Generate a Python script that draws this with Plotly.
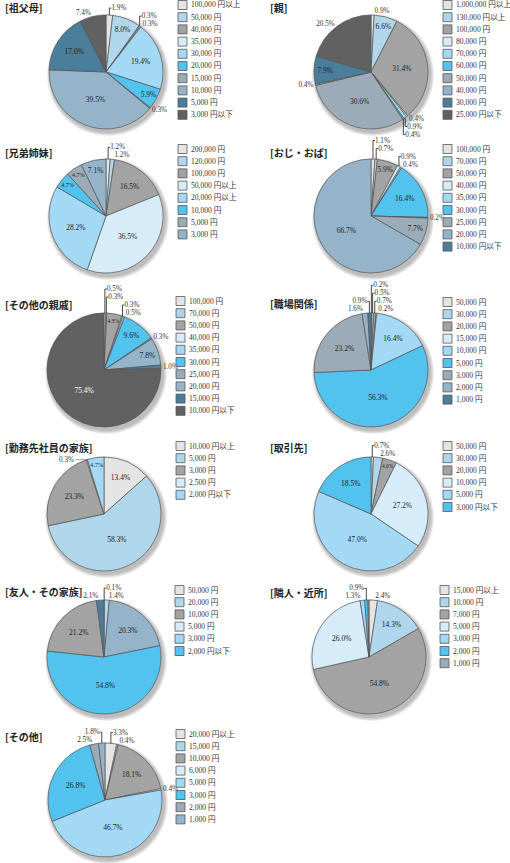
import math
import plotly.graph_objects as go

W, H = 510, 863

# ---------------- data (legend order) ----------------
grandparents_labels = ["100,000 円以上", "50,000 円", "40,000 円", "35,000 円", "30,000 円", "20,000 円",
                       "15,000 円", "10,000 円", "5,000 円", "3,000 円以下"]
grandparents_values = [1.9, 8.0, 0.3, 0.3, 19.4, 5.9, 0.3, 39.5, 17.0, 7.4]

parents_labels = ["1,000,000 円以上", "130,000 円以上", "100,000 円", "80,000 円", "70,000 円", "60,000 円",
                  "50,000 円", "40,000 円", "30,000 円", "25,000 円以下"]
parents_values = [0.9, 6.6, 31.4, 0.4, 0.9, 0.4, 30.6, 0.4, 7.9, 20.5]

siblings_labels = ["200,000 円", "120,000 円", "100,000 円", "50,000 円以上", "20,000 円以上", "10,000 円",
                   "5,000 円", "3,000 円"]
siblings_values = [1.2, 1.2, 16.5, 36.5, 28.2, 4.7, 4.7, 7.1]

uncle_labels = ["100,000 円", "70,000 円", "50,000 円", "40,000 円", "35,000 円", "30,000 円", "25,000 円",
                "20,000 円", "10,000 円以下"]
uncle_values = [1.1, 0.7, 5.9, 0.9, 0.4, 16.4, 7.7, 66.7, 0.2]

relatives_labels = ["100,000 円", "70,000 円", "50,000 円", "40,000 円", "35,000 円", "30,000 円", "25,000 円",
                    "20,000 円", "15,000 円", "10,000 円以下"]
relatives_values = [0.5, 0.3, 4.3, 0.3, 0.5, 9.6, 0.3, 7.8, 1.0, 75.4]

work_labels = ["50,000 円", "30,000 円", "20,000 円", "15,000 円", "10,000 円", "5,000 円", "3,000 円",
               "2,000 円", "1,000 円"]
work_values = [0.2, 0.5, 0.7, 0.2, 16.4, 56.3, 23.2, 1.6, 0.9]

coworker_family_labels = ["10,000 円以上", "5,000 円", "3,000 円", "2,500 円", "2,000 円以下"]
coworker_family_values = [13.4, 58.3, 23.3, 0.3, 4.7]

clients_labels = ["50,000 円", "30,000 円", "20,000 円", "10,000 円", "5,000 円", "3,000 円以下"]
clients_values = [0.7, 2.6, 4.0, 27.2, 47.0, 18.5]

friends_labels = ["50,000 円", "20,000 円", "10,000 円", "5,000 円", "3,000 円", "2,000 円以下"]
friends_values = [0.1, 1.4, 20.3, 54.8, 21.2, 2.1]

neighbors_labels = ["15,000 円以上", "10,000 円", "7,000 円", "5,000 円", "3,000 円", "2,000 円", "1,000 円"]
neighbors_values = [2.4, 14.3, 54.8, 26.0, 1.3, 0.9, 0.3]

others_labels = ["20,000 円以上", "15,000 円", "10,000 円", "6,000 円", "5,000 円", "3,000 円", "2,000 円",
                 "1,000 円"]
others_values = [3.3, 0.4, 18.1, 0.4, 46.7, 26.8, 2.5, 1.8]

titles = ["[祖父母]", "[親]", "[兄弟姉妹]", "[おじ・おば]", "[その他の親戚]", "[職場関係]",
          "[勤務先社員の家族]", "[取引先]", "[友人・その家族]", "[隣人・近所]", "[その他]"]

# ---------------- style ----------------
PALETTE = ["#e4e4e4", "#afd6ea", "#a3a3a3", "#d6edf9", "#a3d9f5", "#52c3ef",
           "#9babb7", "#95b4c9", "#4a7e9a", "#616161"]
SERIF = "Liberation Serif, Noto Sans CJK JP, serif"
R = 57

panels = [
    dict(l=grandparents_labels, v=grandparents_values, c=(106, 72), lx=178, ly=5, force_out=[9]),
    dict(l=parents_labels, v=parents_values, c=(371, 72), lx=443, ly=5, force_out=[9]),
    dict(l=siblings_labels, v=siblings_values, c=(106, 216), lx=178, ly=149),
    dict(l=uncle_labels, v=uncle_values, c=(371, 216), lx=443, ly=149, order=[0, 1, 2, 3, 4, 5, 8, 6, 7]),
    dict(l=relatives_labels, v=relatives_values, c=(104, 370), lx=176, ly=301),
    dict(l=work_labels, v=work_values, c=(371, 370), lx=443, ly=302),
    dict(l=coworker_family_labels, v=coworker_family_values, c=(104, 514), lx=176, ly=446,
         callout={3: (-20, 0)}),
    dict(l=clients_labels, v=clients_values, c=(371, 514), lx=443, ly=446),
    dict(l=friends_labels, v=friends_values, c=(104, 657), lx=175, ly=590, cols=[0, 1, 7, 5, 2, 8]),
    dict(l=neighbors_labels, v=neighbors_values, c=(369, 657), lx=440, ly=590, hidden=[6]),
    dict(l=others_labels, v=others_values, c=(105, 800), lx=176, ly=734),
]
title_pos = [(3, 8), (268, 8), (3, 152), (268, 152), (3, 304), (268, 303),
             (3, 447), (268, 448), (3, 591), (268, 592), (3, 736)]

fig = go.Figure()
shapes = []
annotations = []


def px(x):
    return x / W


def py(y):
    return 1 - y / H


for k, p in enumerate(panels):
    n = len(p["l"])
    order = p.get("order", list(range(n)))
    cols = p.get("cols", list(range(n)))
    force_out = p.get("force_out", [])
    hidden = p.get("hidden", [])
    callout = p.get("callout", {})
    labs = [p["l"][i] for i in order]
    vals = [p["v"][i] for i in order]
    colors = [PALETTE[cols[i]] for i in order]
    texts = ["" if (i in hidden or i in callout) else f"{p['v'][i]:.1f}%" for i in order]
    pos = ["outside" if (p["v"][i] < 4.0 or i in force_out) else "inside" for i in order]
    tcol = ["#ffffff" if cols[i] == 9 else "#222222" for i in order]
    cx, cy = p["c"]

    # soft shadow
    for s in range(4, 0, -1):
        shapes.append(dict(type="circle", xref="paper", yref="paper", layer="below",
                           x0=px(cx + 2 - R - s), x1=px(cx + 2 + R + s),
                           y0=py(cy + 3 + R + s), y1=py(cy + 3 - R - s),
                           fillcolor="rgba(0,0,0,0.07)", line=dict(width=0)))

    fig.add_trace(go.Pie(
        labels=labs, values=vals, text=texts, texttemplate="%{text}",
        sort=False, direction="clockwise", rotation=0,
        marker=dict(colors=colors, line=dict(color="#555555", width=0.7)),
        textposition=pos, insidetextorientation="horizontal",
        textfont=dict(family=SERIF, size=7.5, color="#333333"),
        insidetextfont=dict(family=SERIF, size=7.5, color=tcol),
        outsidetextfont=dict(family=SERIF, size=7.2, color="#333333"),
        domain=dict(x=[px(cx - R), px(cx + R)], y=[py(cy + R), py(cy - R)]),
        showlegend=False, hoverinfo="skip",
    ))

    # leader-line labels computed from the slice's mid angle
    total = sum(vals)
    cum = 0.0
    for j, i in enumerate(order):
        v = p["v"][i]
        if i in callout:
            ang = 2 * math.pi * (cum + v / 2) / total
            ex, ey = cx + R * math.sin(ang), cy - R * math.cos(ang)
            dx, dy = callout[i]
            annotations.append(dict(xref="paper", yref="paper", x=px(ex), y=py(ey),
                                    ax=dx, ay=dy, showarrow=True, arrowhead=0, arrowwidth=0.6,
                                    arrowcolor="#666666", text=f"{v:.1f}%",
                                    font=dict(family=SERIF, size=7.2, color="#333333")))
        cum += v

    # manual legend
    step = 12.2
    for i, lab in enumerate(p["l"]):
        yc = p["ly"] + i * step
        shapes.append(dict(type="rect", xref="paper", yref="paper",
                           x0=px(p["lx"]), x1=px(p["lx"] + 9),
                           y0=py(yc + 4.5), y1=py(yc - 4.5),
                           fillcolor=PALETTE[i], line=dict(color="#555555", width=0.8)))
        annotations.append(dict(xref="paper", yref="paper", x=px(p["lx"] + 11), y=py(yc),
                                xanchor="left", yanchor="middle", showarrow=False, text=lab,
                                font=dict(family=SERIF, size=7.6, color="#333333")))

    tx, ty = title_pos[k]
    annotations.append(dict(xref="paper", yref="paper", x=px(tx), y=py(ty),
                            xanchor="left", yanchor="middle", showarrow=False,
                            text=f"<b>{titles[k]}</b>",
                            font=dict(family="Noto Sans CJK JP", size=10, color="#222222")))

fig.update_layout(width=W, height=H, margin=dict(l=0, r=0, t=0, b=0),
                  paper_bgcolor="white", plot_bgcolor="white",
                  shapes=shapes, annotations=annotations)

fig.write_html("out.html", config={"displayModeBar": False},
               post_script="document.body.style.margin='0';document.body.style.overflow='hidden';")
